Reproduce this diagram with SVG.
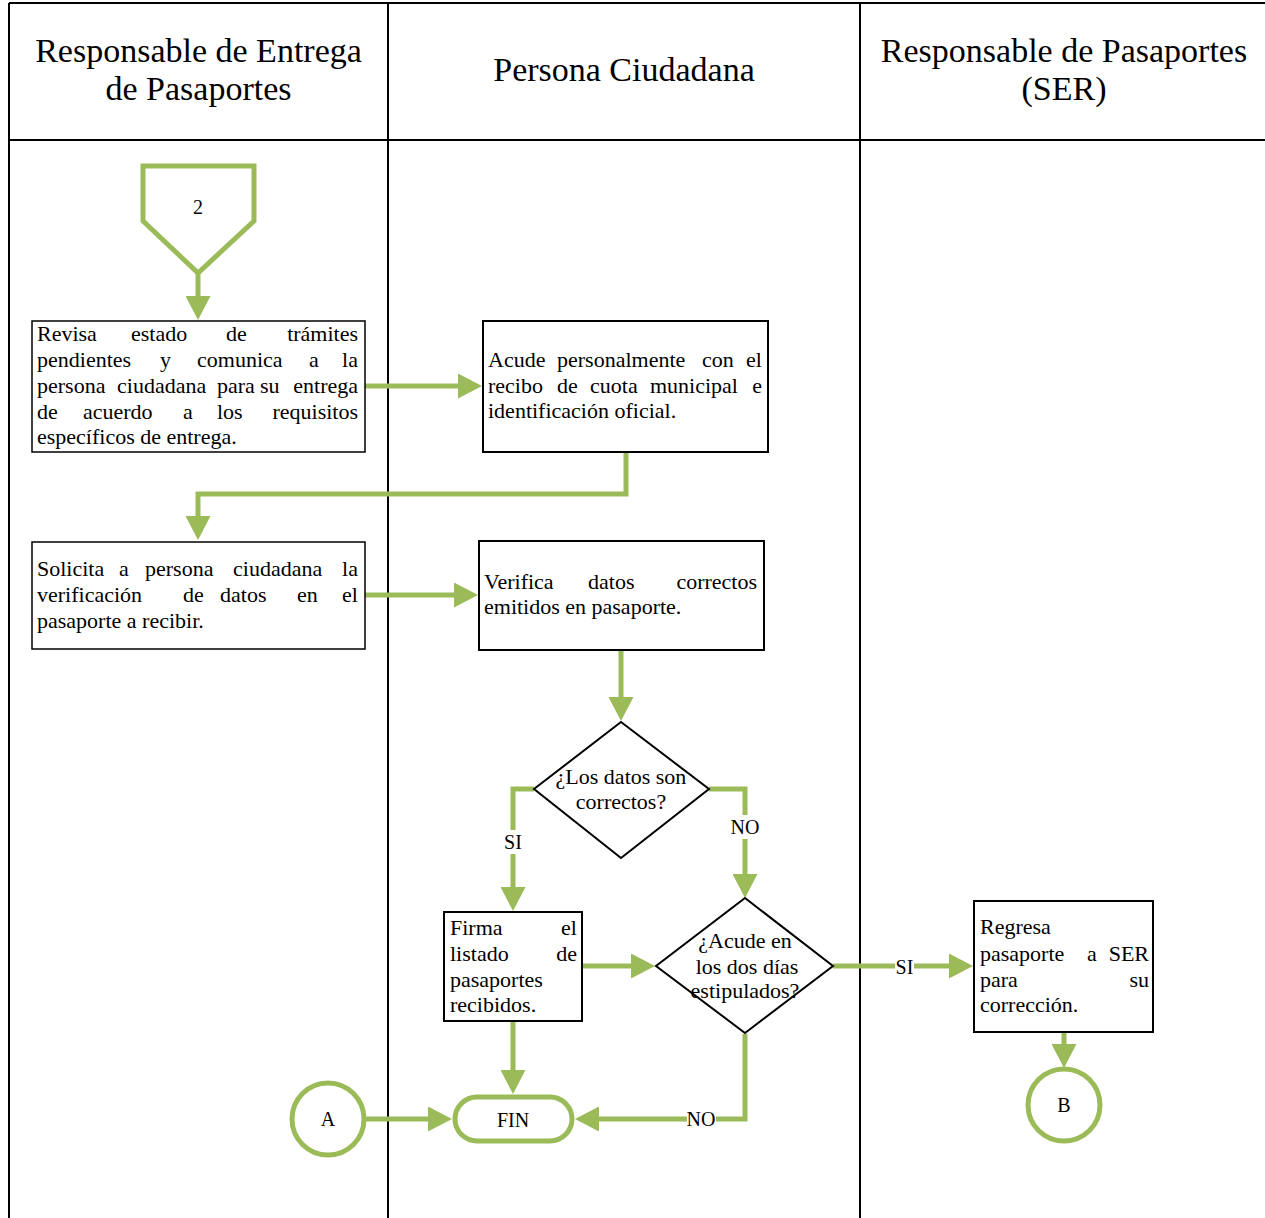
<svg xmlns="http://www.w3.org/2000/svg" width="1265" height="1218" viewBox="0 0 1265 1218">
<style>
.frame{stroke:#000;stroke-width:2;fill:none}
.box{fill:#fff;stroke:#000;stroke-width:2}
.thin{stroke-width:1.5}
.t{font-family:"Liberation Serif","Times New Roman",serif;font-size:22px;fill:#000}
.e{text-anchor:end}
.h{font-family:"Liberation Serif","Times New Roman",serif;font-size:34px;fill:#000;text-anchor:middle}
.c{text-anchor:middle}
.s{font-family:"Liberation Serif","Times New Roman",serif;font-size:20px;fill:#000;text-anchor:middle}
.g{fill:none;stroke:#9BBB59;stroke-width:5;stroke-linejoin:miter}
.gs{fill:#fff;stroke:#9BBB59;stroke-width:5}
.lbl{fill:#fff}
</style>
<defs>
<marker id="ah" markerUnits="userSpaceOnUse" viewBox="0 0 24 25" markerWidth="24" markerHeight="25" refX="14" refY="12.5" orient="auto">
<path d="M0,0 L24,12.5 L0,25 z" fill="#9BBB59"/>
</marker>
</defs>
<rect width="1265" height="1218" fill="#fff"/>
<g id="lanes">
<path class="frame" d="M9,3 H1265 M9,140 H1265 M9,3 V1218 M388,3 V1218 M860,3 V1218"/>
<text class="h" x="198.5" y="62">Responsable de Entrega</text>
<text class="h" x="198.5" y="100">de Pasaportes</text>
<text class="h" x="624" y="81">Persona Ciudadana</text>
<text class="h" x="1064" y="62">Responsable de Pasaportes</text>
<text class="h" x="1064" y="100">(SER)</text>
</g>
<g id="connectors">
<path class="g" marker-end="url(#ah)" d="M198,273 V310"/>
<path class="g" marker-end="url(#ah)" d="M363,386 H472"/>
<path class="g" marker-end="url(#ah)" d="M626,453 V494 H198 V530"/>
<path class="g" marker-end="url(#ah)" d="M363,595 H468"/>
<path class="g" marker-end="url(#ah)" d="M621,650 V711"/>
<path class="g" marker-end="url(#ah)" d="M534,789 H513 V901"/>
<path class="g" marker-end="url(#ah)" d="M709,789 H745 V888"/>
<path class="g" marker-end="url(#ah)" d="M582,966 H645"/>
<path class="g" marker-end="url(#ah)" d="M833,966 H963"/>
<path class="g" marker-end="url(#ah)" d="M1064,1033 V1058"/>
<path class="g" marker-end="url(#ah)" d="M745,1034 V1119 H585"/>
<path class="g" marker-end="url(#ah)" d="M513,1021 V1084"/>
<path class="g" marker-end="url(#ah)" d="M366,1119 H442"/>
<rect class="lbl" x="502" y="830" width="22" height="24"/>
<text class="s" x="513" y="849">SI</text>
<rect class="lbl" x="731" y="815" width="28" height="24"/>
<text class="s" x="745" y="834">NO</text>
<rect class="lbl" x="895" y="955" width="19" height="24"/>
<text class="s" x="904.5" y="974">SI</text>
<rect class="lbl" x="687" y="1107" width="29" height="24"/>
<text class="s" x="701" y="1126">NO</text>
</g>
<g id="conn2">
<path class="gs" d="M143,166 H254 V221 L198,273 L143,221 Z"/>
<text class="s" x="198" y="214">2</text>
</g>
<g id="box1">
<rect class="box thin" x="32" y="321" width="333" height="131"/>
<text class="t" y="341"><tspan x="37">Revisa</tspan><tspan x="131">estado</tspan><tspan x="226">de</tspan></text>
<text class="t e" x="358" y="341">trámites</text>
<text class="t" y="367"><tspan x="37">pendientes</tspan><tspan x="160">y</tspan><tspan x="197">comunica</tspan><tspan x="309">a</tspan></text>
<text class="t e" x="358" y="367">la</text>
<text class="t" y="393"><tspan x="37">persona</tspan><tspan x="117">ciudadana</tspan><tspan x="217">para</tspan><tspan x="260">su</tspan></text>
<text class="t e" x="358" y="393">entrega</text>
<text class="t" y="419"><tspan x="37">de</tspan><tspan x="83">acuerdo</tspan><tspan x="183">a</tspan><tspan x="217">los</tspan></text>
<text class="t e" x="358" y="419">requisitos</text>
<text class="t" x="37" y="444">específicos de entrega.</text>
</g>
<g id="box2">
<rect class="box" x="483" y="321" width="285" height="131"/>
<text class="t" y="367"><tspan x="488">Acude</tspan><tspan x="557">personalmente</tspan><tspan x="702">con</tspan></text>
<text class="t e" x="762" y="367">el</text>
<text class="t" y="393"><tspan x="488">recibo</tspan><tspan x="557">de</tspan><tspan x="590">cuota</tspan><tspan x="650">municipal</tspan></text>
<text class="t e" x="762" y="393">e</text>
<text class="t" x="488" y="418">identificación oficial.</text>
</g>
<g id="box3">
<rect class="box thin" x="32" y="542" width="333" height="107"/>
<text class="t" y="576"><tspan x="37">Solicita</tspan><tspan x="119">a</tspan><tspan x="145">persona</tspan><tspan x="233">ciudadana</tspan></text>
<text class="t e" x="358" y="576">la</text>
<text class="t" y="602"><tspan x="37">verificación</tspan><tspan x="183">de</tspan><tspan x="220">datos</tspan><tspan x="297">en</tspan></text>
<text class="t e" x="358" y="602">el</text>
<text class="t" x="37" y="628">pasaporte a recibir.</text>
</g>
<g id="box4">
<rect class="box" x="479" y="541" width="285" height="109"/>
<text class="t" y="589"><tspan x="484">Verifica</tspan><tspan x="588">datos</tspan></text>
<text class="t e" x="757" y="589">correctos</text>
<text class="t" x="484" y="614">emitidos en pasaporte.</text>
</g>
<g id="dec1">
<path class="box" d="M621,722 L709,789 L621,858 L534,789 Z"/>
<text class="t c" x="621" y="784">¿Los datos son</text>
<text class="t c" x="621" y="809">correctos?</text>
</g>
<g id="box5">
<rect class="box" x="444" y="912" width="138" height="109"/>
<text class="t" x="450" y="935">Firma</text>
<text class="t e" x="577" y="935">el</text>
<text class="t" x="450" y="961">listado</text>
<text class="t e" x="577" y="961">de</text>
<text class="t" x="450" y="987">pasaportes</text>
<text class="t" x="450" y="1012">recibidos.</text>
</g>
<g id="dec2">
<path class="box" d="M745,898 L833,966 L745,1033 L656,966 Z"/>
<text class="t c" x="745" y="948">¿Acude en</text>
<text class="t c" x="747" y="974">los dos días</text>
<text class="t c" x="745" y="998">estipulados?</text>
</g>
<g id="box6">
<rect class="box" x="974" y="901" width="179" height="131"/>
<text class="t" x="980" y="934">Regresa</text>
<text class="t" y="961"><tspan x="980">pasaporte</tspan><tspan x="1087">a</tspan></text>
<text class="t e" x="1149" y="961">SER</text>
<text class="t" x="980" y="987">para</text>
<text class="t e" x="1149" y="987">su</text>
<text class="t" x="980" y="1012">corrección.</text>
</g>
<g id="fin">
<rect class="gs" x="455" y="1097" width="117" height="44" rx="22" ry="22"/>
<text class="s" x="513" y="1127">FIN</text>
</g>
<g id="connA">
<circle class="gs" cx="328" cy="1119" r="36"/>
<text class="s" x="328" y="1126">A</text>
</g>
<g id="connB">
<circle class="gs" cx="1064" cy="1105" r="36"/>
<text class="s" x="1064" y="1112">B</text>
</g>
</svg>
